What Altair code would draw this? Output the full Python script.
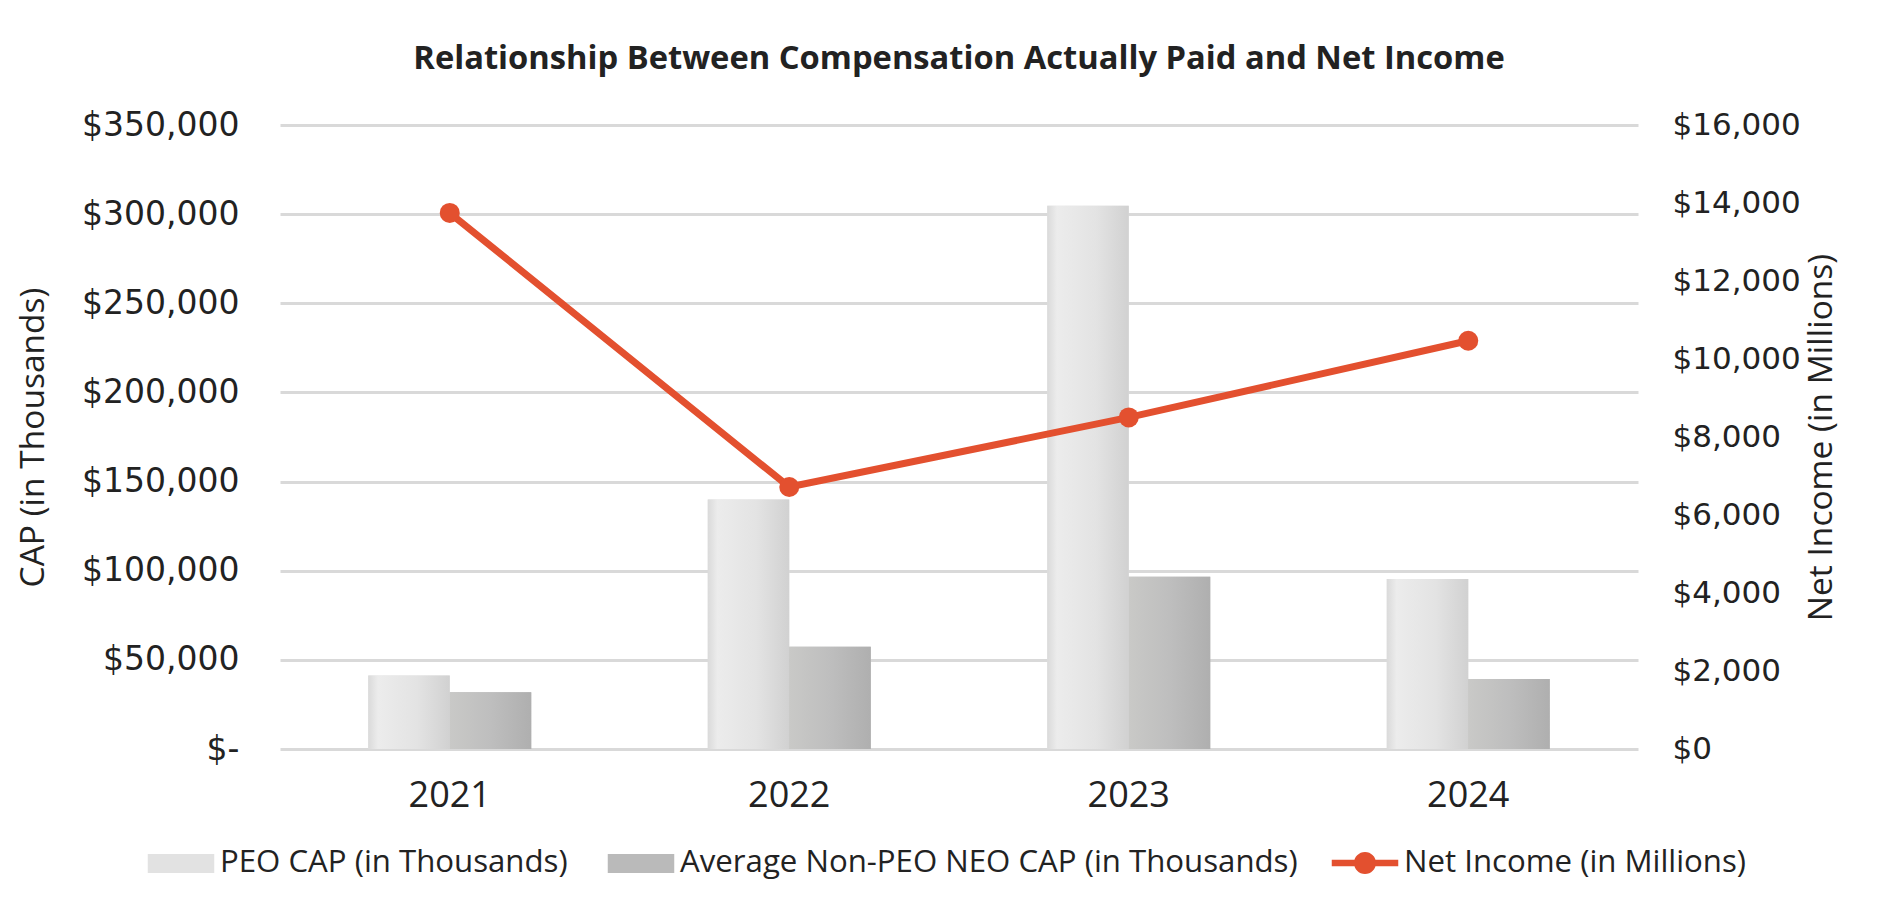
import altair as alt
import pandas as pd

# ---- data ----
years = ["2021", "2022", "2023", "2024"]
peo_cap = [41200, 139900, 304700, 95300]          # PEO CAP (in Thousands)
neo_cap = [31800, 57400, 96600, 39200]            # Average Non-PEO NEO CAP (in Thousands)
net_income = [13746, 6717, 8503, 10467]           # Net Income (in Millions)

S_PEO = "PEO CAP (in Thousands)"
S_NEO = "Average Non-PEO NEO CAP (in Thousands)"
S_NET = "Net Income (in Millions)"
bar_colors = ["#e2e2e2", "#bababa"]
RED = "#e3502f"

bars_df = pd.DataFrame(
    {"year": years * 2,
     "series": [S_PEO] * 4 + [S_NEO] * 4,
     "value": peo_cap + neo_cap}
)
line_df = pd.DataFrame({"year": years, "series": [S_NET] * 4, "value": net_income})

FONT = "Open Sans"
NUMFONT = "DejaVu Sans"
TXT = "#222222"

x_enc = alt.X(
    "year:N",
    title=None,
    scale=alt.Scale(paddingInner=0.52, paddingOuter=0.26),
    axis=alt.Axis(labelAngle=0, domain=False, ticks=False, labelPadding=29,
                  labelFont=FONT, labelFontSize=36, labelColor=TXT),
)
xoff_enc = alt.XOffset("series:N", scale=alt.Scale(domain=[S_PEO, S_NEO]), sort=[S_PEO, S_NEO])

y_left = alt.Y(
    "value:Q",
    scale=alt.Scale(domain=[0, 350000]),
    axis=alt.Axis(
        title="CAP (in Thousands)",
        values=list(range(0, 350001, 50000)),
        labelExpr="datum.value === 0 ? '$-' : '$' + format(datum.value, ',')",
        domain=False, ticks=False, labelPadding=41,
        labelFont=NUMFONT, labelFontSize=33, labelColor=TXT,
        titleFont=FONT, titleFontSize=33.5, titleFontWeight="normal", titleColor=TXT,
        titlePadding=31,
        grid=True, gridColor="#d9d9d9", gridWidth=3,
    ),
)

RECT_PATH = "M-1.75,-0.5L1.75,-0.5L1.75,0.5L-1.75,0.5Z"
LINE_DOT_PATH = ("M-1.75,-0.17L1.75,-0.17L1.75,0.17L-1.75,0.17Z "
                 "M0,-0.58A0.58,0.58 0 1 1 0,0.58A0.58,0.58 0 1 1 0,-0.58Z")

bar_legend = alt.Legend(
    title=None, orient="none", direction="horizontal", legendX=-118, legendY=719,
    labelFont=FONT, labelFontSize=31.2, labelColor=TXT, labelLimit=700,
    symbolType=RECT_PATH, symbolSize=1444, symbolStrokeWidth=0, symbolOpacity=1,
    labelOffset=20, columnPadding=39, padding=0,
)
line_legend = alt.Legend(
    title=None, orient="none", direction="horizontal", legendX=1066, legendY=719,
    labelFont=FONT, labelFontSize=31.2, labelColor=TXT, labelLimit=700,
    symbolType=LINE_DOT_PATH, symbolSize=1444, symbolStrokeWidth=0, symbolOpacity=1,
    labelOffset=20, padding=0,
)

base_bars = alt.Chart(bars_df).mark_bar().encode(
    x=x_enc,
    xOffset=xoff_enc,
    y=y_left,
    color=alt.Color("series:N", scale=alt.Scale(domain=[S_PEO, S_NEO], range=bar_colors),
                    legend=bar_legend, sort=[S_PEO, S_NEO]),
)

peo_grad = alt.Gradient(
    gradient="linear", x1=0, x2=1, y1=0, y2=0,
    stops=[alt.GradientStop(color="#dadada", offset=0),
           alt.GradientStop(color="#ececec", offset=0.12),
           alt.GradientStop(color="#e3e3e3", offset=0.6),
           alt.GradientStop(color="#d1d1d1", offset=1)],
)
neo_grad = alt.Gradient(
    gradient="linear", x1=0, x2=1, y1=0, y2=0,
    stops=[alt.GradientStop(color="#c9c9c7", offset=0),
           alt.GradientStop(color="#bebebe", offset=0.5),
           alt.GradientStop(color="#afafaf", offset=1)],
)

grad_peo = alt.Chart(bars_df).transform_filter(
    alt.datum.series == S_PEO
).mark_bar(fill=peo_grad).encode(
    x=alt.X("year:N"), xOffset=alt.XOffset("series:N"), y=alt.Y("value:Q")
)
grad_neo = alt.Chart(bars_df).transform_filter(
    alt.datum.series == S_NEO
).mark_bar(fill=neo_grad).encode(
    x=alt.X("year:N"), xOffset=alt.XOffset("series:N"), y=alt.Y("value:Q")
)

bars = alt.layer(base_bars, grad_peo, grad_neo)

y_right = alt.Y(
    "value:Q",
    scale=alt.Scale(domain=[0, 16000]),
    axis=alt.Axis(
        orient="right",
        title="Net Income (in Millions)",
        values=list(range(0, 16001, 2000)),
        labelExpr="'$' + format(datum.value, ',')",
        domain=False, ticks=False, labelPadding=34, grid=False,
        labelFont=NUMFONT, labelFontSize=31, labelColor=TXT,
        titleFont=FONT, titleFontSize=33.5, titleFontWeight="normal", titleColor=TXT,
        titleAngle=270, titlePadding=38,
    ),
)

line = alt.Chart(line_df).mark_line(strokeWidth=7, color=RED).encode(
    x=alt.X("year:N"),
    y=y_right,
)
pts = alt.Chart(line_df).mark_circle(size=400, opacity=1).encode(
    x=alt.X("year:N"),
    y=alt.Y("value:Q"),
    fill=alt.Fill("series:N", scale=alt.Scale(domain=[S_NET], range=[RED]),
                  legend=line_legend),
)
lines = alt.layer(line, pts)

chart = alt.layer(bars, lines).resolve_scale(y="independent").properties(
    width=1358,
    height=624,
    background="white",
    padding={"left": 8, "top": 34, "right": 5, "bottom": 5},
    title=alt.TitleParams(
        "Relationship Between Compensation Actually Paid and Net Income",
        font=FONT, fontSize=32.7, fontWeight="bold", color=TXT,
        anchor="middle", frame="group", offset=33.5,
    ),
).configure_view(stroke=None)

chart.save("out.html", embed_options={"renderer": "svg", "actions": False})
